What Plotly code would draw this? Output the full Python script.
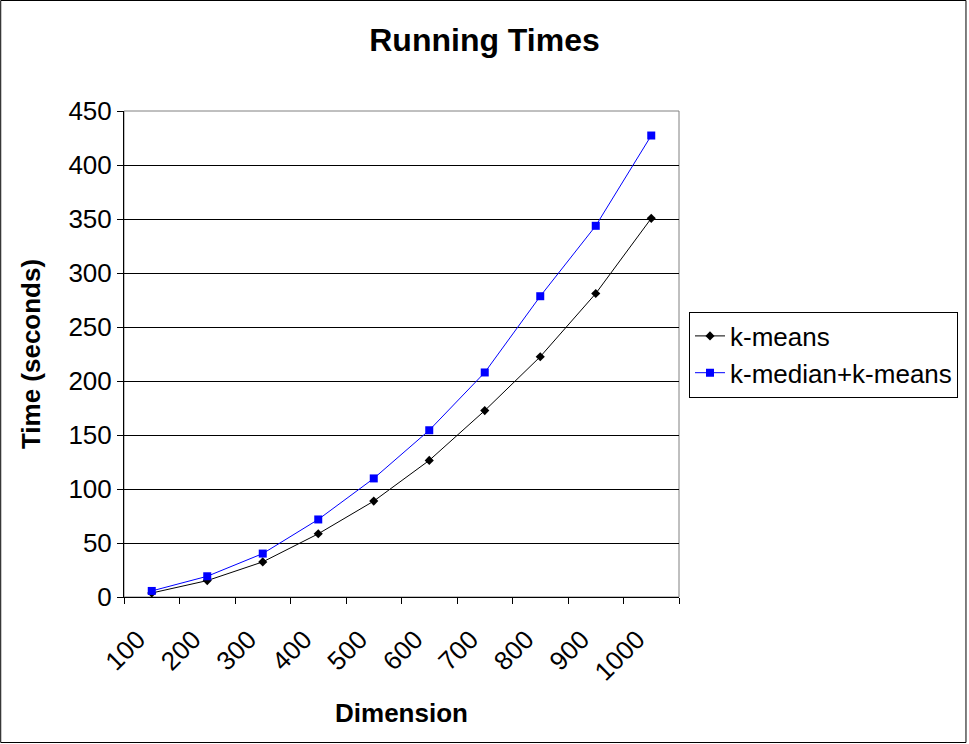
import plotly.graph_objects as go

dimensions = ["100", "200", "300", "400", "500", "600", "700", "800", "900", "1000"]
kmeans = [3.7, 15.2, 32.5, 58.5, 88.8, 126.5, 172.6, 222.5, 281.0, 350.6]
kmedian_kmeans = [5.6, 19.2, 40.2, 71.8, 109.8, 154.4, 207.9, 278.5, 343.7, 427.3]

FONT = "Liberation Sans, Arial, sans-serif"
W, H = 969, 744
L, R, T, B = 124, 680, 111, 597
pw, ph = R - L, B - T

fig = go.Figure()
fig.add_trace(go.Scatter(
    x=dimensions, y=kmeans, name="k-means", mode="lines+markers",
    line=dict(color="black", width=1),
    marker=dict(symbol="diamond", size=7, color="black"),
))
fig.add_trace(go.Scatter(
    x=dimensions, y=kmedian_kmeans, name="k-median+k-means", mode="lines+markers",
    line=dict(color="#0000ff", width=1),
    marker=dict(symbol="square", size=8, color="#0000ff"),
))

def px_x(p):
    return (p - L) / pw

def px_y(p):
    return (B - p) / ph

fig.update_layout(
    width=W, height=H,
    margin=dict(l=L, r=W - R, t=T, b=H - B),
    paper_bgcolor="white", plot_bgcolor="white",
    font=dict(family=FONT, size=26, color="black"),
    title=dict(text="<b>Running Times</b>", x=0.5, xref="container", xanchor="center",
               y=1 - 40 / H, yref="container", yanchor="middle",
               font=dict(size=32, family=FONT)),
    showlegend=True,
    legend=dict(x=px_x(689), y=px_y(354.5), xanchor="left", yanchor="middle",
                bordercolor="black", borderwidth=1, bgcolor="white",
                font=dict(size=26, family=FONT), tracegroupgap=0),
    xaxis=dict(
        type="category", tickson="boundaries", ticks="outside", ticklen=6,
        tickcolor="black", tickangle=-45, showgrid=False, zeroline=False,
        showline=True, linecolor="black", linewidth=1,
        range=[-0.5, 9.5],
        ticklabelstandoff=16, ticklabelshift=-14,
        title=dict(text="<b>Dimension</b>", font=dict(size=26, family=FONT), standoff=18),
        tickfont=dict(size=26, family=FONT),
    ),
    yaxis=dict(
        range=[0, 450], dtick=50, tick0=0, ticks="outside", ticklen=6,
        tickcolor="black", showgrid=True, gridcolor="black", gridwidth=1,
        zeroline=False, showline=True, linecolor="black", linewidth=1,
        title=dict(text="<b>Time (seconds)</b>", font=dict(size=26, family=FONT), standoff=20),
        tickfont=dict(size=26, family=FONT),
    ),
    shapes=[
        dict(type="rect", xref="paper", yref="paper", x0=0, x1=1, y0=0, y1=1,
             line=dict(color="#808080", width=1), layer="below"),
        dict(type="rect", xref="paper", yref="paper",
             x0=px_x(0.5), x1=px_x(W - 1.5), y0=px_y(H - 1.5), y1=px_y(0.5),
             line=dict(color="black", width=1)),
    ],
)

fig.write_html("out.html")
